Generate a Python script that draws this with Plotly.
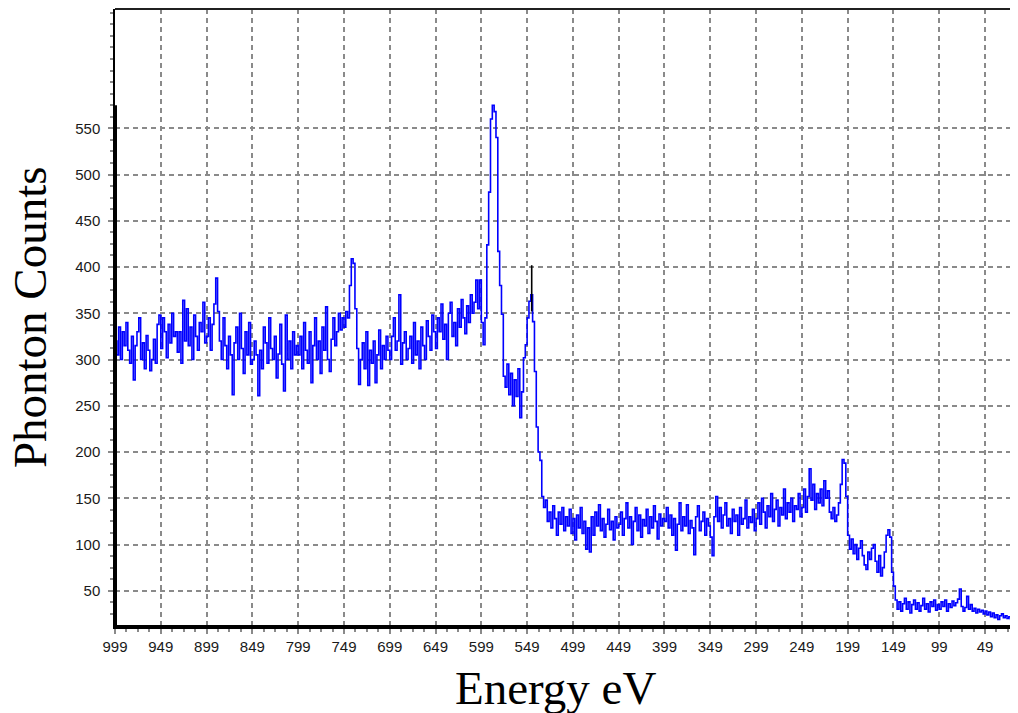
import plotly.graph_objects as go

# ---- data (2 eV sampling, high energy -> low energy) ----
energy_start = 999
energy_step = 2

counts_999_951 = [320, 305, 335, 300, 330, 315, 340, 310, 296, 325, 278, 315, 330, 345, 300, 318, 290, 326, 310, 288, 300, 322, 296, 338, 348]
counts_949_901 = [312, 345, 330, 302, 338, 318, 350, 325, 330, 308, 330, 296, 364, 320, 355, 315, 335, 300, 348, 325, 310, 340, 330, 362, 318]
counts_899_851 = [325, 345, 310, 338, 360, 388, 352, 320, 300, 345, 315, 290, 325, 305, 262, 318, 335, 300, 350, 312, 285, 330, 305, 340, 295]
counts_849_801 = [300, 320, 305, 261, 310, 290, 335, 318, 296, 345, 312, 300, 325, 280, 306, 338, 295, 266, 348, 300, 320, 290, 330, 305, 315]
counts_799_751 = [305, 325, 290, 340, 310, 296, 330, 275, 315, 345, 300, 320, 285, 335, 310, 357, 300, 287, 322, 345, 315, 330, 350, 332, 345]
counts_749_701 = [335, 352, 345, 380, 409, 404, 355, 312, 273, 300, 318, 290, 330, 272, 310, 296, 320, 275, 305, 332, 290, 315, 300, 325, 310]
counts_699_651 = [300, 325, 345, 310, 320, 370, 295, 318, 330, 300, 312, 325, 296, 340, 305, 320, 290, 335, 315, 300, 342, 325, 310, 348, 330]
counts_649_601 = [312, 345, 330, 360, 322, 338, 300, 350, 362, 325, 340, 315, 355, 335, 365, 345, 328, 358, 340, 370, 350, 362, 386, 355, 386]
counts_599_551 = [340, 316, 345, 424, 481, 560, 575, 568, 540, 417, 380, 349, 282, 270, 295, 262, 285, 250, 278, 260, 290, 237, 265, 302, 316]
counts_549_501 = [345, 363, 370, 341, 287, 227, 200, 191, 152, 140, 148, 125, 135, 118, 142, 128, 110, 135, 122, 140, 115, 130, 120, 138, 112]
counts_499_451 = [128, 105, 132, 118, 140, 112, 125, 95, 118, 92, 130, 110, 135, 120, 143, 115, 128, 108, 122, 138, 116, 125, 105, 130, 118]
counts_449_401 = [122, 135, 110, 128, 145, 118, 130, 100, 125, 140, 115, 132, 108, 127, 120, 138, 112, 130, 118, 142, 125, 106, 133, 120, 128]
counts_399_351 = [125, 140, 118, 132, 110, 128, 94, 122, 145, 115, 130, 120, 143, 112, 126, 118, 89, 130, 142, 115, 125, 135, 110, 128, 120]
counts_349_301 = [108, 88, 130, 152, 125, 140, 118, 132, 145, 120, 128, 112, 138, 125, 132, 110, 140, 122, 128, 148, 118, 130, 124, 138, 115]
counts_299_251 = [128, 145, 122, 150, 135, 118, 142, 130, 155, 125, 138, 148, 120, 140, 132, 160, 128, 145, 135, 150, 125, 142, 138, 155, 130]
counts_249_201 = [140, 160, 135, 152, 182, 148, 165, 138, 155, 145, 160, 142, 169, 150, 158, 135, 128, 140, 125, 132, 145, 165, 192, 188, 152]
counts_199_151 = [110, 95, 106, 90, 100, 84, 96, 104, 88, 78, 73, 92, 84, 96, 100, 82, 70, 88, 66, 75, 92, 110, 116, 108, 70]
counts_149_101 = [55, 40, 30, 38, 28, 36, 42, 30, 38, 26, 35, 40, 30, 37, 28, 34, 42, 30, 36, 27, 38, 33, 40, 29, 35]
counts_99_51 = [30, 38, 33, 40, 28, 36, 32, 39, 34, 37, 41, 52, 33, 28, 32, 44, 30, 35, 28, 31, 26, 30, 27, 29, 25]
counts_49_15 = [28, 24, 27, 22, 26, 21, 24, 19, 23, 25, 21, 23, 20, 22, 19, 21, 20, 19]

marker_energy = [544, 544]
marker_counts = [352, 402]

x_tick_values = [999, 949, 899, 849, 799, 749, 699, 649, 599, 549, 499, 449, 399, 349, 299, 249, 199, 149, 99, 49]
y_tick_values = [50, 100, 150, 200, 250, 300, 350, 400, 450, 500, 550]

x_range = [999, 13]
y_range = [13, 679]

counts = (counts_999_951 + counts_949_901 + counts_899_851 + counts_849_801 + counts_799_751
          + counts_749_701 + counts_699_651 + counts_649_601 + counts_599_551 + counts_549_501
          + counts_499_451 + counts_449_401 + counts_399_351 + counts_349_301 + counts_299_251
          + counts_249_201 + counts_199_151 + counts_149_101 + counts_99_51 + counts_49_15)
energy = [energy_start - energy_step * i for i in range(len(counts))]

fig = go.Figure()
fig.add_trace(go.Scatter(x=energy, y=counts, mode="lines", line=dict(color="#0000ff", width=1.6, shape="hv"),
                         showlegend=False, hoverinfo="skip"))
fig.add_trace(go.Scatter(x=marker_energy, y=marker_counts, mode="lines", line=dict(color="#000000", width=1.6),
                         showlegend=False, hoverinfo="skip"))

grid_color = "#8a8a8a"
tick_font = dict(family="Liberation Sans, Arial, sans-serif", size=15, color="#1a1a1a")

fig.update_xaxes(
    range=x_range, tickmode="array", tickvals=x_tick_values, ticktext=[str(v) for v in x_tick_values],
    showgrid=True, gridcolor=grid_color, gridwidth=1.5, griddash="5px,4px",
    showline=True, linecolor="#000000", linewidth=4,
    ticks="outside", ticklen=5, tickcolor=grid_color, tickwidth=1.5, tickfont=tick_font,
    minor=dict(tickmode="linear", tick0=999, dtick=12.5, ticks="outside", ticklen=3, tickcolor=grid_color, tickwidth=1.5, showgrid=False),
    zeroline=False, fixedrange=True,
)
fig.update_yaxes(
    range=y_range, tickmode="array", tickvals=y_tick_values, ticktext=[str(v) for v in y_tick_values],
    showgrid=True, gridcolor=grid_color, gridwidth=1.5, griddash="5px,4px",
    showline=True, linecolor="#000000", linewidth=1.5,
    ticks="outside", ticklen=5, tickcolor=grid_color, tickwidth=1.5, tickfont=tick_font,
    ticklabelstandoff=5,
    minor=dict(tickmode="linear", tick0=50, dtick=12.5, ticks="outside", ticklen=3, tickcolor=grid_color, tickwidth=1.5, showgrid=False),
    zeroline=False, fixedrange=True,
)

# thick part of the left axis spanning the data range, and the top frame line
fig.add_shape(type="line", xref="paper", yref="y", x0=0, x1=0, y0=y_range[0], y1=max(counts),
              line=dict(color="#000000", width=4))
fig.add_shape(type="line", xref="paper", yref="paper", x0=0, x1=1, y0=1, y1=1,
              line=dict(color="#202020", width=2))

fig.add_annotation(text="Phonton Counts", xref="paper", yref="paper", x=-0.094, y=0.50,
                   xanchor="center", yanchor="middle", textangle=-90, showarrow=False,
                   font=dict(family="Liberation Serif, Times New Roman, serif", size=47, color="#000000"))
fig.add_annotation(text="Energy eV", xref="paper", yref="paper", x=0.488, y=-0.102,
                   xanchor="center", yanchor="middle", showarrow=False,
                   font=dict(family="Liberation Serif, Times New Roman, serif", size=47, color="#000000"))

# the page adds an 8 px body margin, so the figure is sized to fit the 1018x713 window
fig.update_layout(
    width=1010, height=705,
    margin=dict(l=107, r=0, t=1, b=88),
    paper_bgcolor="#ffffff", plot_bgcolor="#ffffff",
    showlegend=False,
)

fig.write_html("out.html")
